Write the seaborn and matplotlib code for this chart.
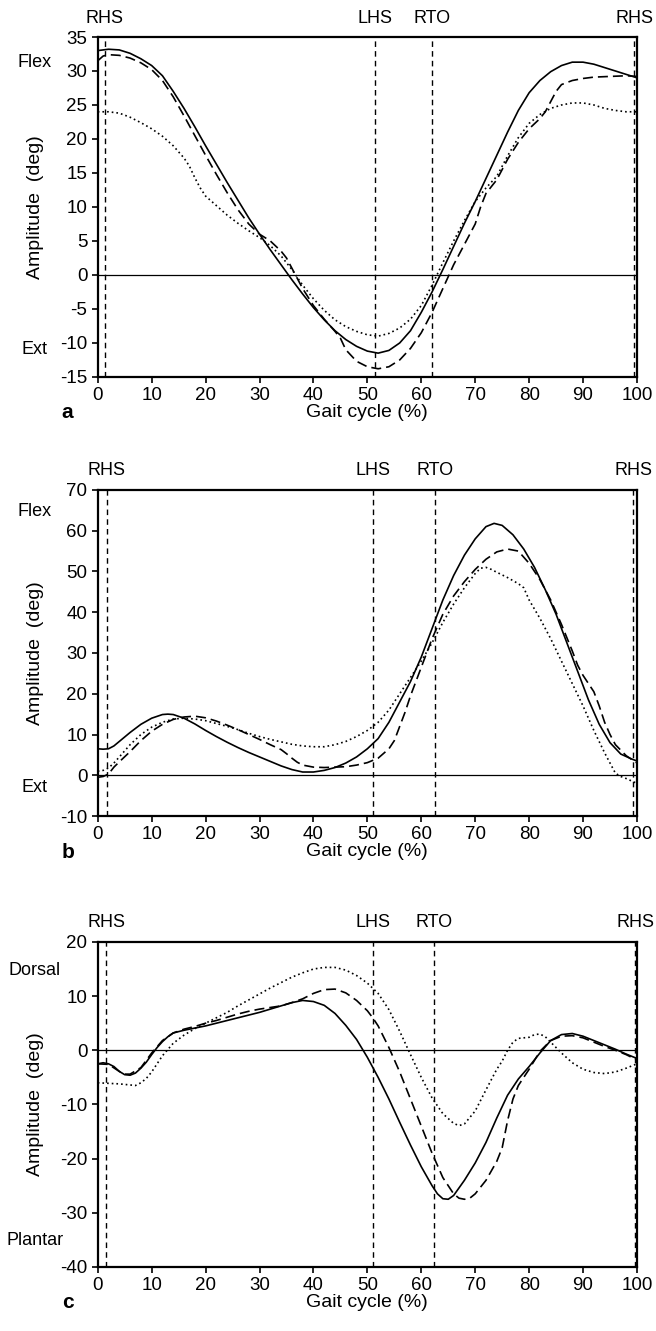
import numpy as np
import pandas as pd
import seaborn as sns
import matplotlib.pyplot as plt
import matplotlib.transforms as mtransforms

# ---- panel a ----
a_solid_x = [0, 1, 2, 4, 6, 8, 10, 12, 14, 16, 18, 20, 22, 24, 26, 28, 30, 32, 34, 36, 38, 40, 42, 44, 46, 48, 50, 52, 54, 56, 58, 60, 62, 64, 66, 68, 70, 72, 74, 76, 78, 80, 82, 84, 86, 88, 90, 92, 94, 96, 98, 100]
a_solid_y = [33, 33.1, 33.2, 33.1, 32.6, 31.8, 30.8, 29.3, 27, 24.5, 21.8, 19, 16.3, 13.6, 11, 8.4, 6, 3.7, 1.5, -0.7, -2.8, -4.8, -6.6, -8.2, -9.5, -10.5, -11.2, -11.5, -11.1, -10, -8.2, -5.5, -2.5, 0.8, 4.2, 7.6, 10.8, 14.2, 17.6, 21, 24.2, 26.8, 28.6, 29.9, 30.8, 31.3, 31.3, 31, 30.5, 30, 29.5, 29]
a_dash_x = [0, 1, 2, 4, 6, 8, 10, 12, 14, 16, 18, 20, 22, 24, 26, 28, 30, 32, 34, 35, 36, 37, 38, 40, 42, 44, 45, 46, 48, 50, 52, 54, 56, 58, 60, 62, 64, 66, 68, 70, 71, 72, 74, 75, 76, 78, 80, 82, 83, 84, 85, 86, 88, 90, 92, 95, 98, 100]
a_dash_y = [31.5, 32.2, 32.4, 32.3, 31.9, 31.2, 30.2, 28.6, 26.2, 23.4, 20.5, 17.6, 14.8, 12.1, 9.6, 7.5, 6, 5, 3.5, 2.5, 1, -0.5, -2, -4.5, -6.5, -8.3, -9.3, -11, -12.7, -13.5, -13.8, -13.5, -12.5, -10.8, -8.5, -5.5, -2, 1.5, 4.5, 7.5, 10, 12, 14, 15.5, 17, 19.5, 21.5, 23, 24, 25.5, 27, 28, 28.6, 28.9, 29.1, 29.2, 29.3, 29.2]
a_dot_x = [0, 2, 4, 6, 8, 10, 12, 14, 16, 17, 18, 19, 20, 22, 24, 26, 28, 30, 32, 34, 36, 38, 40, 42, 44, 46, 48, 50, 52, 54, 56, 58, 60, 62, 64, 66, 68, 70, 72, 74, 76, 78, 80, 82, 84, 86, 88, 90, 92, 94, 96, 98, 100]
a_dot_y = [24, 24, 23.8, 23.2, 22.4, 21.5, 20.4, 19, 17.2, 16, 14.3, 12.8, 11.6, 10.2, 8.8, 7.6, 6.5, 5.5, 4.3, 2.8, 0.8, -1.5, -3.5, -5.2, -6.6, -7.6, -8.3, -8.8, -9, -8.6, -7.8, -6.5, -4.5, -1.5, 1.8, 5, 8, 10.8, 12.8, 14.5, 17.5, 20.2, 22.3, 23.6, 24.5, 25, 25.3, 25.3, 25, 24.5, 24.2, 24, 24]
a_events = [1.3, 51.5, 62, 99.5]

# ---- panel b ----
b_solid_x = [0, 1, 2, 3, 4, 6, 8, 10, 12, 13, 14, 16, 18, 20, 22, 24, 26, 28, 30, 32, 34, 36, 38, 40, 42, 44, 46, 48, 50, 52, 54, 56, 58, 60, 62, 64, 66, 68, 70, 72, 73.5, 75, 77, 79, 81, 83, 85, 87, 89, 91, 93, 95, 97, 99, 100]
b_solid_y = [6.5, 6.4, 6.5, 7.2, 8.3, 10.5, 12.5, 14, 14.9, 15, 14.9, 14, 12.6, 11, 9.5, 8.1, 6.8, 5.6, 4.5, 3.4, 2.3, 1.4, 0.8, 0.8, 1.2, 1.9, 3, 4.5, 6.5, 9, 13, 18, 23, 29, 36, 43, 49, 54, 58, 61, 61.8, 61.3, 59, 55.5, 51, 45.5, 39.5, 32.5, 25.5, 18.5, 12.5, 8, 5.2, 4, 3.5]
b_dash_x = [0, 1, 2, 3, 4, 6, 8, 10, 12, 14, 16, 18, 20, 22, 24, 26, 28, 30, 32, 34, 35, 36, 37, 38, 40, 42, 44, 46, 48, 50, 52, 54, 55, 56, 57, 58, 60, 62, 64, 66, 68, 70, 72, 74, 76, 78, 80, 82, 84, 86, 88, 89, 90, 91, 92, 93, 94, 95, 96, 98, 100]
b_dash_y = [-0.5, -0.3, 0.3, 2, 3.3, 5.8, 8.5, 10.8, 12.5, 13.7, 14.3, 14.5, 14.1, 13.3, 12.3, 11.2, 10, 8.8, 7.5, 6.3, 5.3, 4.2, 3.2, 2.5, 2, 1.9, 2, 2.1, 2.5, 3.1, 4.2, 6.5, 8.5, 12, 15.5, 19.5, 26.5, 33.5, 39.5, 44, 47.5, 50.5, 53, 54.8, 55.5, 55, 52, 48, 43, 37, 30.5, 27, 24.5, 22.5, 20.5, 17, 13, 10, 7.5, 4.8, 3]
b_dot_x = [0, 1, 2, 3, 4, 6, 8, 10, 12, 14, 16, 18, 20, 22, 24, 26, 28, 30, 32, 34, 36, 38, 40, 42, 44, 46, 48, 50, 52, 54, 56, 58, 60, 62, 64, 66, 68, 70, 71, 72, 73, 74, 76, 78, 79, 80, 82, 84, 86, 88, 90, 92, 94, 95, 96, 97, 98, 100]
b_dot_y = [1, 1.2, 1.8, 3, 4.5, 7.5, 10, 11.8, 13, 13.8, 14, 13.8, 13.4, 12.7, 12, 11.2, 10.3, 9.5, 8.8, 8.2, 7.6, 7.2, 7, 7, 7.5, 8.3, 9.5, 11, 13, 16, 20, 24, 28, 32.5, 37.5, 42, 46, 49.5, 50.8, 51, 50.5, 49.8, 48.5, 47, 46, 43, 38.5, 33.5, 28, 22.5, 17, 11, 5.5, 3, 0.5, -0.3, -0.8, -2]
b_events = [1.7, 51, 62.5, 99.3]

# ---- panel c ----
c_solid_x = [0, 1, 2, 3, 4, 5, 6, 7, 8, 9, 10, 11, 12, 13, 14, 16, 18, 20, 22, 24, 26, 28, 30, 32, 34, 36, 38, 40, 42, 44, 46, 48, 50, 52, 54, 56, 58, 60, 62, 63, 64, 65, 66, 68, 70, 72, 74, 76, 78, 80, 82, 84, 86, 88, 90, 92, 94, 96, 98, 100]
c_solid_y = [-2.5, -2.3, -2.5, -3, -3.9, -4.5, -4.6, -4.2, -3.3, -2.2, -0.8, 0.5, 1.6, 2.5, 3.2, 3.7, 4.1, 4.5, 5, 5.5, 6, 6.5, 7, 7.6, 8.2, 8.8, 9.2, 9, 8.3, 6.8, 4.6, 2, -1.3, -5, -9, -13.3, -17.5, -21.5, -25, -26.5, -27.4, -27.5, -26.8, -24, -20.8, -17, -12.5, -8.3, -5.3, -3, -0.5, 1.8, 2.9, 3.1, 2.6, 1.8, 1, 0.2, -0.7, -1.5]
c_dash_x = [0, 2, 4, 5, 6, 8, 10, 12, 14, 16, 18, 20, 22, 24, 26, 28, 30, 32, 34, 36, 38, 40, 42, 44, 46, 48, 50, 51, 52, 54, 56, 58, 60, 62, 64, 66, 67, 68, 69, 70, 72, 74, 75, 76, 77, 78, 80, 82, 84, 86, 88, 90, 92, 94, 96, 98, 100]
c_dash_y = [-2.5, -2.6, -3.9, -4.4, -4.4, -3.2, -0.5, 1.8, 3.2, 3.9, 4.4, 5, 5.5, 6.1, 6.7, 7.2, 7.6, 7.9, 8.2, 8.8, 9.5, 10.5, 11.2, 11.3, 10.6, 9.2, 7.3, 6, 4.5, 0.5, -4, -9, -14, -19, -23.5, -26.5, -27.3, -27.5, -27.3, -26.5, -24, -20.5, -18, -13, -9, -6.5, -3.5, -0.2, 1.8, 2.6, 2.7, 2.3, 1.5, 0.7, 0, -0.8, -1.8]
c_dot_x = [0, 2, 4, 6, 7, 8, 9, 10, 11, 12, 14, 16, 18, 20, 22, 24, 26, 28, 30, 32, 34, 36, 38, 40, 42, 44, 46, 48, 50, 52, 54, 56, 58, 60, 62, 64, 66, 67, 68, 70, 72, 74, 75, 76, 77, 78, 80, 81, 82, 83, 84, 86, 88, 90, 92, 94, 96, 98, 100]
c_dot_y = [-6, -6.1, -6.2, -6.4, -6.5, -6, -5.2, -4, -2.5, -1, 1.3, 2.8, 4, 5, 6, 7, 8.2, 9.3, 10.4, 11.5, 12.5, 13.5, 14.3, 15, 15.3, 15.3, 14.8, 13.8, 12.4, 10.5, 7.5, 3.5, -0.8, -5, -8.8, -11.7, -13.5, -13.9, -13.6, -11.2, -7.3, -3.5, -2, 0, 1.5, 2.2, 2.4, 2.9, 3, 2.5, 1.5, -0.5, -2.3, -3.5, -4.1, -4.3, -4, -3.3, -2.5]
c_events = [1.6, 51, 62.3, 99.7]

event_names = ['RHS', 'LHS', 'RTO', 'RHS']

sns.set_theme(style='ticks')
plt.rcParams['font.family'] = ['Liberation Sans', 'DejaVu Sans']
plt.rcParams['axes.unicode_minus'] = False
plt.rcParams['text.color'] = 'black'
plt.rcParams['axes.labelcolor'] = 'black'


def make_df(sx, sy, dx, dy, ox, oy):
    return pd.concat([
        pd.DataFrame({'pct': sx, 'deg': sy, 'line': 'solid'}),
        pd.DataFrame({'pct': dx, 'deg': dy, 'line': 'dashed'}),
        pd.DataFrame({'pct': ox, 'deg': oy, 'line': 'dotted'}),
    ], ignore_index=True)


panels = [
    dict(df=make_df(a_solid_x, a_solid_y, a_dash_x, a_dash_y, a_dot_x, a_dot_y),
         events=a_events, ylim=(-15, 35), yticks=range(-15, 36, 5),
         top='Flex', top_y=31.3, bot='Ext', bot_y=-11, letter='a',
         rect=[0.149, 0.7168, 0.822, 0.2554]),
    dict(df=make_df(b_solid_x, b_solid_y, b_dash_x, b_dash_y, b_dot_x, b_dot_y),
         events=b_events, ylim=(-10, 70), yticks=range(-10, 71, 10),
         top='Flex', top_y=64.6, bot='Ext', bot_y=-3.1, letter='b',
         rect=[0.149, 0.3869, 0.822, 0.2450]),
    dict(df=make_df(c_solid_x, c_solid_y, c_dash_x, c_dash_y, c_dot_x, c_dot_y),
         events=c_events, ylim=(-40, 20), yticks=range(-40, 21, 10),
         top='Dorsal', top_y=14.7, bot='Plantar', bot_y=-35.2, letter='c',
         rect=[0.149, 0.0481, 0.822, 0.2442]),
]

fig = plt.figure(figsize=(6.56, 13.31), dpi=100)

for p in panels:
    ax = fig.add_axes(p['rect'])
    sns.lineplot(data=p['df'], x='pct', y='deg', style='line',
                 dashes={'solid': '', 'dashed': (6, 3), 'dotted': (1, 1.8)},
                 color='black', lw=1.2, estimator=None, sort=False,
                 legend=False, ax=ax)
    ax.axhline(0, color='black', lw=0.9)
    bt = mtransforms.blended_transform_factory(ax.transData, ax.transAxes)
    h_px = p['rect'][3] * 1331
    for x, name in zip(p['events'], event_names):
        ax.axvline(x, color='black', lw=1.0, ls=(0, (4, 3)))
        ax.text(x, 1 + 19 / h_px, name, transform=bt, ha='center', va='center',
                fontsize=13, clip_on=False)
    ax.set_xlim(0, 100)
    ax.set_ylim(*p['ylim'])
    ax.set_xticks(range(0, 101, 10))
    ax.set_yticks(list(p['yticks']))
    for s in ax.spines.values():
        s.set_visible(True)
        s.set_linewidth(1.6)
        s.set_color('black')
    ax.tick_params(direction='out', length=4.5, width=1.2, labelsize=13.5,
                   colors='black', pad=3)
    ax.set_xlabel('Gait cycle (%)', fontsize=14)
    ax.set_ylabel('Amplitude  (deg)', fontsize=14)
    ax.xaxis.set_label_coords(0.5, -27 / h_px)
    ax.yaxis.set_label_coords(-0.10, 0.5)
    tl = mtransforms.blended_transform_factory(ax.transAxes, ax.transData)
    ax.text(-0.117, p['top_y'], p['top'], transform=tl, ha='center', va='center', fontsize=13)
    ax.text(-0.117, p['bot_y'], p['bot'], transform=tl, ha='center', va='center', fontsize=13)
    ax.text(-0.056, -36 / h_px, p['letter'], transform=ax.transAxes, ha='center',
            va='center', fontsize=15, fontweight='bold')
    ax.grid(False)

fig.savefig('out.png', dpi=100)
